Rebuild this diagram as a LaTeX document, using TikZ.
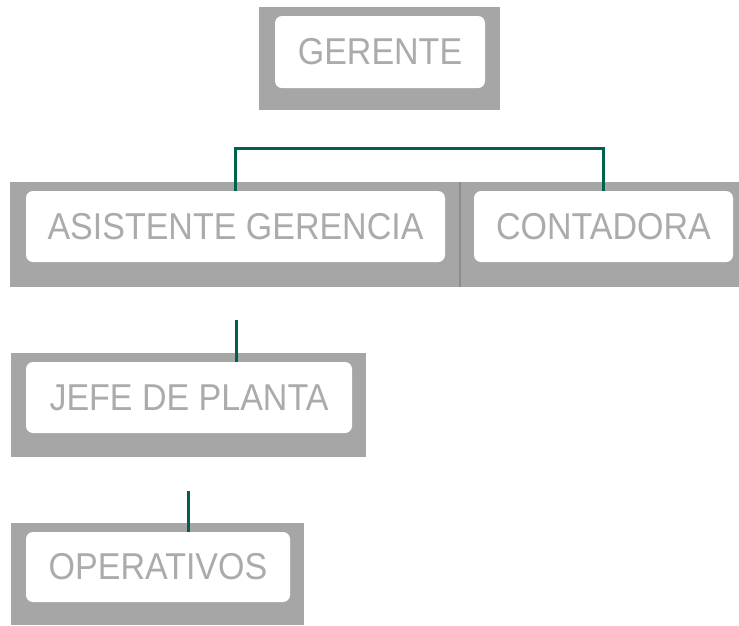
\documentclass[tikz,border=0pt]{standalone}
\usepackage{fontspec}
\setmainfont{Liberation Sans}
\usepackage{tikz}
\definecolor{boxgray}{HTML}{A6A6A6}
\definecolor{txtgray}{HTML}{ABABAB}
\definecolor{linkgreen}{HTML}{00604F}
\newcommand{\lbl}[1]{\scalebox{1}[1.1]{\fontsize{34}{40}\selectfont #1}}

\begin{document}
\begin{tikzpicture}[x=1pt,y=-1pt,
	outerbox/.style={fill=boxgray,inner sep=0pt},
	innerbox/.style={fill=white,rounded corners=7pt,inner sep=0pt,text=txtgray},
	link/.style={linkgreen,line width=3pt}]
	\useasboundingbox (0,0) rectangle (739,625);
	\node[outerbox,minimum width=241pt,minimum height=103pt] (gerenteBox) at (379.5,58.5) {};
	\node[innerbox,minimum width=210pt,minimum height=72pt] (gerente) at (380,52) {\lbl{GERENTE}};
	\node[outerbox,minimum width=450pt,minimum height=105pt] (asistenteBox) at (235,234.5) {};
	\node[outerbox,minimum width=279pt,minimum height=105pt] (contadoraBox) at (599.5,234.5) {};
	\draw[black!45,line width=1.5pt] (asistenteBox.north east) -- (asistenteBox.south east);
	\node[innerbox,minimum width=419pt,minimum height=71pt] (asistente) at (235.5,226.5) {\lbl{ASISTENTE GERENCIA}};
	\node[innerbox,minimum width=259pt,minimum height=71pt] (contadora) at (603.5,226.5) {\lbl{CONTADORA}};
	\node[outerbox,minimum width=355pt,minimum height=104pt] (jefeBox) at (188.5,405) {};
	\node[innerbox,minimum width=326pt,minimum height=71pt] (jefe) at (189,397.5) {\lbl{JEFE DE PLANTA}};
	\node[outerbox,minimum width=293pt,minimum height=102pt] (operativosBox) at (157.5,574) {};
	\node[innerbox,minimum width=264pt,minimum height=70pt] (operativos) at (158,567) {\lbl{OPERATIVOS}};
	\coordinate (branch) at (420,148);
	\coordinate (jefeTop) at (236,320);
	\coordinate (operTop) at (188,491);
	\draw[link] (asistente.north) |- (branch) -| (contadora.north);
	\draw[link] (jefeTop) -- (jefeTop |- jefe.north);
	\draw[link] (operTop) -- (operTop |- operativos.north);
\end{tikzpicture}
\end{document}
